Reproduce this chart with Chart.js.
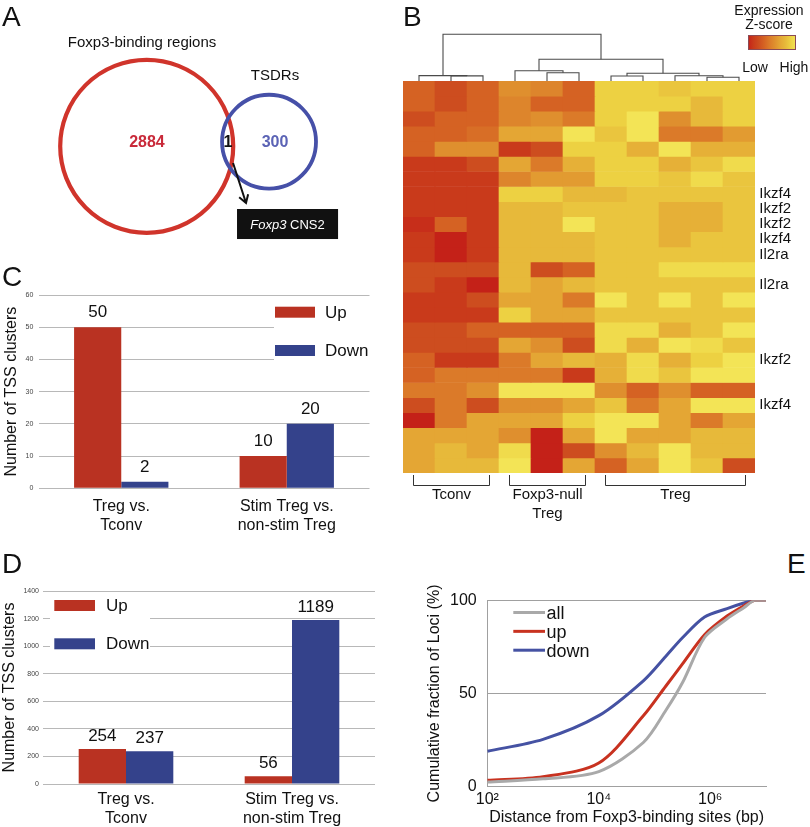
<!DOCTYPE html>
<html>
<head>
<meta charset="utf-8">
<script src="https://cdn.jsdelivr.net/npm/chart.js@4.4.1/dist/chart.umd.min.js"></script>
<style>
  body { margin: 0; background: #fff; }
  #page { position: relative; width: 810px; height: 827px; overflow: hidden; font-family: "Liberation Sans", Arial, Helvetica, sans-serif; }
  canvas { position: absolute; }
  .panel { position: absolute; font-size: 28px; line-height: 28px; color: #111; }
</style>
</head>
<body>
<div id="page">
  <canvas id="venn" width="400" height="270" style="left:0;top:0"></canvas>
  <canvas id="heat" width="410" height="530" style="left:400px;top:0"></canvas>
  <canvas id="dendro" width="352" height="51" style="left:403px;top:30px"></canvas>
  <canvas id="chartC" width="400" height="260" style="left:0;top:282px"></canvas>
  <canvas id="chartD" width="400" height="247" style="left:0;top:580px"></canvas>
  <canvas id="chartE" width="400" height="247" style="left:410px;top:580px"></canvas>
  <div class="panel" style="left:2px;top:3px">A</div>
  <div class="panel" style="left:403px;top:3px">B</div>
  <div class="panel" style="left:2px;top:263px">C</div>
  <div class="panel" style="left:2px;top:550px">D</div>
  <div class="panel" style="left:787px;top:550px">E</div>
</div>
<script>
// ---- data ----
// A: overlap of Foxp3-binding regions and TSDRs
const vennNames = ['Foxp3-binding regions', 'TSDRs'];
const vennCounts = [2884, 300];
const vennShared = 1;

// B: heatmap (expression z-score, 0 = low ... 9 = high), rows top to bottom
const heatSamples = ['Tconv 1', 'Tconv 2', 'Tconv 3', 'Foxp3-null Treg 1', 'Foxp3-null Treg 2', 'Foxp3-null Treg 3',
  'Treg 1', 'Treg 2', 'Treg 3', 'Treg 4', 'Treg 5'];
const heatGroups = ['Tconv', 'Foxp3-null\nTreg', 'Treg'];
const heatGroupFirst = [0, 3, 6];
const heatGroupLast = [2, 5, 10];
const heatRowLabels = ['', '', '', '', '', '', '', 'Ikzf4', 'Ikzf2', 'Ikzf2', 'Ikzf4', 'Il2ra', '', 'Il2ra',
  '', '', '', '', 'Ikzf2', '', '', 'Ikzf4', '', '', '', ''];
const heatRows = [
  [3, 2, 3, 5, 4.5, 3, 8, 8, 7.5, 8, 8],
  [3, 2, 3, 4.5, 3, 3, 8, 8, 8, 7, 8],
  [2, 3, 3, 4.5, 5, 4, 8, 9, 5, 7, 8],
  [3, 3, 3.5, 6, 6, 9, 7.5, 9, 4, 4, 5.5],
  [3, 5, 5, 1, 2, 8, 8, 6.5, 9, 6.5, 6.5],
  [1, 1, 2, 6, 4, 6.5, 8, 8, 6.5, 7.5, 8.5],
  [1, 1, 1, 4.5, 5.5, 5.5, 8, 8, 7.5, 8.5, 7.5],
  [1, 1, 1, 8, 8, 7, 7, 7.5, 7.5, 7.5, 7.5],
  [1, 1, 1, 7, 7, 7.5, 7.5, 7.5, 6.5, 6.5, 7.5],
  [0.5, 3, 1, 7, 7, 9, 7.5, 7.5, 6.5, 6.5, 7.5],
  [1, 0, 1, 7, 7, 7, 7.5, 7.5, 6.5, 7.5, 7.5],
  [1, 0, 1, 7, 7, 7, 7.5, 7.5, 7.5, 7.5, 7.5],
  [2, 2, 2, 7, 2, 3, 7.5, 7.5, 8.5, 8.5, 8.5],
  [2, 1, 0, 7, 6, 7, 7.5, 7.5, 7.5, 7.5, 7.5],
  [1, 1, 2, 6, 6, 4, 9, 7.5, 9, 7.5, 9],
  [1, 1, 1, 8, 6, 6, 7.5, 7.5, 7.5, 7.5, 7.5],
  [2, 2, 3, 3, 3, 3, 8.5, 8.5, 6.5, 7.5, 9],
  [2, 2, 2, 6, 5, 2, 8.5, 6.5, 9, 8.5, 7.5],
  [3, 1, 1, 4, 6, 7, 6.5, 8.5, 6.5, 8, 9],
  [3, 4, 4, 4, 4, 1, 6.5, 8.5, 7.5, 9, 9],
  [4, 4, 5, 9, 9, 9, 5, 3, 5, 3, 3],
  [2, 4, 2, 5, 5, 6, 7.5, 4, 6, 9, 9],
  [0, 4, 6, 6, 6, 8, 9, 9, 6, 4, 6],
  [6, 6, 6, 5, 0, 6, 9, 6, 6, 7, 7],
  [6, 7, 6, 8.5, 0, 2, 5, 7, 9, 7, 7],
  [6, 7, 7, 9, 0, 6, 3, 6, 9, 7.5, 2]
];
// column clustering: [cluster a, cluster b, merge height]; new clusters numbered from 11
const dendroMerges = [[1, 2, 1.1], [0, 11, 1.15], [4, 5, 1.78], [3, 13, 2.21], [6, 7, 1.07], [9, 10, 0.79],
  [8, 16, 1.13], [15, 17, 1.65], [14, 18, 4.65], [12, 19, 10]];

// C, D: numbers of TSS clusters
const barGroups = [['Treg vs.', 'Tconv'], ['Stim Treg vs.', 'non-stim Treg']];
const barSeries = ['Up', 'Down'];
const tssUpC = [50, 10];
const tssDownC = [2, 20];
const tssUpD = [254, 56];
const tssDownD = [237, 1189];

// E: cumulative fraction of loci vs distance
const distBp = [1e2, 1e3, 1e4, 6.3e4, 1.6e5, 3.2e5, 7.9e5, 2e6, 4e6, 6.3e6, 1e7];
const cumAll = [2.5, 4.2, 8.1, 23.7, 41, 56, 80, 90, 96, 100, 100];
const cumUp = [3.4, 5.4, 12.7, 38, 54, 66, 81.5, 91.5, 97, 100, 100];
const cumDown = [19, 25.4, 38.1, 56.8, 70, 80, 91, 95.5, 98.5, 100, 100];
const distTicks = [1e2, 1e4, 1e6];
const distTickLabels = ['10²', '10⁴', '10⁶'];

// ---- styles ----
const FONT = '"Liberation Sans", Arial, Helvetica, sans-serif';
Chart.defaults.font.family = FONT;
Chart.defaults.color = '#111';
Chart.defaults.animation = false;
Chart.defaults.responsive = false;
Chart.defaults.events = [];
Chart.defaults.plugins.legend.display = false;
Chart.defaults.plugins.tooltip.enabled = false;

const RED = '#b93222', BLUE = '#34428b';
const heatPalette = [[196, 33, 24], [201, 58, 27], [205, 77, 31], [213, 98, 35], [219, 122, 41],
  [223, 143, 46], [228, 166, 52], [231, 185, 58], [237, 209, 66], [243, 228, 86]];

function heatColor(v) {
  const i = Math.min(8, Math.floor(v)), f = v - i;
  const a = heatPalette[i], b = heatPalette[i + 1];
  const c = a.map((ch, k) => Math.round(ch + (b[k] - ch) * f));
  return `rgb(${c[0]},${c[1]},${c[2]})`;
}

// ---- A: venn ----
// circle centres and radii in units of the big circle's radius
const vennCx = [0, 1.414], vennCy = [0, 0.053], vennR = [1, 0.543];
const vennText = {
  id: 'vennText',
  afterDatasetsDraw(chart) {
    const {ctx} = chart;
    const xs = chart.scales.x, ys = chart.scales.y;
    const P = (x, y) => [xs.getPixelForValue(x), ys.getPixelForValue(y)];
    ctx.save();
    ctx.textAlign = 'center';
    ctx.textBaseline = 'middle';
    ctx.font = '15px ' + FONT;
    ctx.fillStyle = '#111';
    ctx.fillText(vennNames[0], ...P(-0.054, 1.194));
    ctx.fillText(vennNames[1], ...P(1.483, 0.813));
    ctx.font = 'bold 16px ' + FONT;
    ctx.fillStyle = '#c92a3a';
    ctx.fillText(vennCounts[0], ...P(0.003, 0.038));
    ctx.fillStyle = '#5b63b5';
    ctx.fillText(vennCounts[1], ...P(1.483, 0.038));
    ctx.fillStyle = '#111';
    ctx.fillText(vennShared, ...P(0.94, 0.038));

    // arrow to the box
    const [ax, ay] = P(0.998, -0.193), [bx, by] = P(1.148, -0.656);
    const ang = Math.atan2(by - ay, bx - ax);
    ctx.strokeStyle = '#111';
    ctx.lineWidth = 2;
    ctx.beginPath();
    ctx.moveTo(ax, ay); ctx.lineTo(bx, by);
    ctx.moveTo(bx - 9 * Math.cos(ang - 0.55), by - 9 * Math.sin(ang - 0.55));
    ctx.lineTo(bx, by);
    ctx.lineTo(bx - 9 * Math.cos(ang + 0.55), by - 9 * Math.sin(ang + 0.55));
    ctx.stroke();

    const [x0, y0] = P(1.044, -0.725), [x1, y1] = P(2.212, -1.072);
    ctx.fillStyle = '#111';
    ctx.fillRect(x0, y0, x1 - x0, y1 - y0);
    ctx.fillStyle = '#fff';
    ctx.textAlign = 'left';
    ctx.font = 'italic 13px ' + FONT;
    const w1 = ctx.measureText('Foxp3').width;
    ctx.font = '13px ' + FONT;
    const w2 = ctx.measureText(' CNS2').width;
    const sx = (x0 + x1) / 2 - (w1 + w2) / 2, cy = (y0 + y1) / 2 + 1;
    ctx.font = 'italic 13px ' + FONT;
    ctx.fillText('Foxp3', sx, cy);
    ctx.font = '13px ' + FONT;
    ctx.fillText(' CNS2', sx + w1, cy);
    ctx.restore();
  }
};

new Chart(document.getElementById('venn'), {
  type: 'scatter',
  data: {
    datasets: [{
      data: vennCx.map((x, i) => ({x, y: vennCy[i]})),
      pointRadius: c => {
        const s = c.chart.scales.x;
        return s.getPixelForValue(vennR[c.dataIndex]) - s.getPixelForValue(0);
      },
      pointBackgroundColor: 'rgba(0,0,0,0)',
      pointBorderColor: ['#d0342b', '#4650a8'],
      pointBorderWidth: [4.2, 3.8],
      clip: false
    }]
  },
  options: {
    layout: {padding: 0},
    scales: {
      x: {type: 'linear', min: -1.696, max: 2.928, display: false},
      y: {type: 'linear', min: -1.43, max: 1.691, display: false}
    }
  },
  plugins: [vennText]
});

// ---- B: heatmap ----
const heatDecor = {
  id: 'heatDecor',
  afterDraw(chart) {
    const {ctx, chartArea: a} = chart;
    const xs = chart.scales.x;
    const half = (xs.getPixelForValue(1) - xs.getPixelForValue(0)) / 2;
    ctx.save();
    ctx.strokeStyle = '#333';
    ctx.lineWidth = 1;
    ctx.fillStyle = '#111';
    ctx.font = '15px ' + FONT;
    ctx.textAlign = 'center';
    ctx.textBaseline = 'middle';
    heatGroups.forEach((g, i) => {
      const x0 = Math.round(xs.getPixelForValue(heatGroupFirst[i]) - half * 0.4) + 0.5;
      const x1 = Math.round(xs.getPixelForValue(heatGroupLast[i]) + half * 0.4) + 0.5;
      const yb = Math.round(a.bottom + 12) + 0.5;
      ctx.beginPath();
      ctx.moveTo(x0, a.bottom + 2); ctx.lineTo(x0, yb); ctx.lineTo(x1, yb); ctx.lineTo(x1, a.bottom + 2);
      ctx.stroke();
      g.split('\n').forEach((line, k) => ctx.fillText(line, (x0 + x1) / 2, yb + 9.5 + k * 19));
    });

    // colour key
    const bx = 348, by = 35, bw = 48, bh = 15;
    const grad = ctx.createLinearGradient(bx, 0, bx + bw, 0);
    heatPalette.forEach((c, i) => grad.addColorStop(i / 9, `rgb(${c[0]},${c[1]},${c[2]})`));
    ctx.fillStyle = grad;
    ctx.fillRect(bx, by, bw, bh);
    ctx.strokeStyle = '#8a4a55';
    ctx.strokeRect(bx + 0.5, by + 0.5, bw - 1, bh - 1);
    ctx.fillStyle = '#111';
    ctx.font = '14px ' + FONT;
    ctx.fillText('Expression', 369, 11);
    ctx.fillText('Z-score', 369, 25);
    ctx.fillText('Low', 355, 68);
    ctx.fillText('High', 394, 68);
    ctx.restore();
  }
};

new Chart(document.getElementById('heat'), {
  type: 'bar',
  data: {
    labels: heatSamples,
    datasets: heatRows.map((row, i) => ({
      label: heatRowLabels[i] || 'row ' + (i + 1),
      data: row.map(() => 1),
      backgroundColor: row.map(heatColor),
      borderWidth: 0,
      barPercentage: 1,
      categoryPercentage: 1
    }))
  },
  options: {
    layout: {padding: {left: 3, right: 0, top: 81, bottom: 57}},
    scales: {
      x: {stacked: true, display: false},
      y: {
        stacked: true, position: 'right', reverse: true, min: 0, max: heatRows.length,
        afterBuildTicks: s => {
          s.ticks = heatRowLabels.map((l, i) => ({value: i + 0.5})).filter((t, i) => heatRowLabels[i]);
        },
        ticks: {
          autoSkip: false, padding: 4.3, color: '#111', font: {size: 15},
          callback: v => heatRowLabels[Math.floor(v)]
        },
        grid: {display: false, drawTicks: false},
        border: {display: false},
        afterFit: s => { s.width = 55; }
      }
    }
  },
  plugins: [heatDecor]
});

// dendrogram over the heatmap columns
const nodeX = heatSamples.map((s, i) => i);
const nodeH = heatSamples.map(() => 0);
const dendroSegs = [];
dendroMerges.forEach(([p, q, h]) => {
  dendroSegs.push([{x: nodeX[p], y: nodeH[p]}, {x: nodeX[p], y: h}, {x: nodeX[q], y: h}, {x: nodeX[q], y: nodeH[q]}]);
  nodeX.push((nodeX[p] + nodeX[q]) / 2);
  nodeH.push(h);
});

new Chart(document.getElementById('dendro'), {
  type: 'scatter',
  data: {
    datasets: dendroSegs.map(seg => ({
      data: seg, showLine: true, borderColor: '#4a4a4a', borderWidth: 1.1,
      pointRadius: 0, tension: 0, clip: false
    }))
  },
  options: {
    layout: {padding: {top: 4.3, left: 0, right: 0, bottom: 0}},
    scales: {
      x: {type: 'linear', min: -0.5, max: heatSamples.length - 0.5, display: false},
      y: {type: 'linear', min: 0, max: 10, display: false}
    }
  }
});

// ---- C, D: bar charts ----
const barValues = {
  id: 'barValues',
  afterDatasetsDraw(chart, args, o) {
    const {ctx} = chart;
    ctx.save();
    ctx.font = '17px ' + FONT;
    ctx.fillStyle = '#111';
    ctx.textAlign = 'center';
    ctx.textBaseline = 'middle';
    chart.data.datasets.forEach((ds, i) => {
      chart.getDatasetMeta(i).data.forEach((bar, j) => ctx.fillText(ds.data[j], bar.x, bar.y - o.lift));
    });
    ctx.restore();
  }
};

const swatchLegend = {
  id: 'swatchLegend',
  afterDatasetsDraw(chart, args, o) {
    const {ctx, chartArea: a} = chart;
    ctx.save();
    ctx.fillStyle = '#fff';
    ctx.fillRect(a.left + o.bg[0], a.top + o.bg[1], o.bg[2], o.bg[3]);
    ctx.font = '17px ' + FONT;
    ctx.textBaseline = 'middle';
    chart.data.datasets.forEach((ds, i) => {
      const x = a.left + o.x, y = a.top + o.y + i * o.gap;
      ctx.fillStyle = ds.backgroundColor;
      ctx.fillRect(x, y, o.w, o.h);
      ctx.fillStyle = '#111';
      ctx.fillText(ds.label, x + o.textDx, y + o.h / 2 + 1);
    });
    ctx.restore();
  }
};

function tssChart(id, up, down, cfg) {
  return new Chart(document.getElementById(id), {
    type: 'bar',
    data: {
      labels: barGroups,
      datasets: [
        {label: barSeries[0], data: up, backgroundColor: RED},
        {label: barSeries[1], data: down, backgroundColor: BLUE}
      ]
    },
    options: {
      layout: {padding: cfg.pad},
      datasets: {bar: {categoryPercentage: 0.57, barPercentage: 1, borderWidth: 0}},
      plugins: {
        barValues: {lift: cfg.lift},
        swatchLegend: cfg.legend
      },
      scales: {
        x: {
          grid: {display: false, drawTicks: false}, border: {display: false},
          ticks: {font: {size: 16, lineHeight: 1.15}, color: '#111', padding: cfg.xPad, maxRotation: 0},
          afterFit: s => { s.height = cfg.xH; }
        },
        y: {
          min: 0, max: cfg.max,
          ticks: {stepSize: cfg.step, font: {size: 7}, color: '#444', padding: cfg.yPad, callback: v => String(v)},
          grid: {color: '#b8b8b8', drawTicks: false},
          border: {display: false},
          title: {display: true, text: 'Number of TSS clusters', font: {size: 16}, color: '#111',
            padding: {top: cfg.titlePad, bottom: 0}},
          afterFit: s => { s.width = cfg.yW; }
        }
      }
    },
    plugins: [barValues, swatchLegend]
  });
}

tssChart('chartC', tssUpC, tssDownC, {
  pad: {left: 0, right: 30.5, top: 13, bottom: 0},
  xH: 53.7, xPad: 9.2, yW: 38.5, yPad: 5.2, titlePad: 2.1, max: 60, step: 10, lift: 15,
  legend: {x: 236.5, y: 11.7, w: 40, h: 11, gap: 38.3, textDx: 50, bg: [235.5, 7, 96, 62]}
});

tssChart('chartD', tssUpD, tssDownD, {
  pad: {left: 0, right: 25, top: 11, bottom: 0},
  xH: 43, xPad: 6.8, yW: 43, yPad: 4, titlePad: 0, max: 1400, step: 200, lift: 13,
  legend: {x: 11.3, y: 9, w: 40.7, h: 11, gap: 38.3, textDx: 51.7, bg: [7, 4, 100, 55]}
});

// ---- E: cumulative distribution ----
const lineLegend = {
  id: 'lineLegend',
  afterDatasetsDraw(chart, args, o) {
    const {ctx, chartArea: a} = chart;
    ctx.save();
    ctx.font = '18px ' + FONT;
    ctx.textBaseline = 'middle';
    chart.data.datasets.forEach((ds, i) => {
      const y = a.top + o.y + i * o.gap;
      ctx.strokeStyle = ds.borderColor;
      ctx.lineWidth = 3;
      ctx.beginPath();
      ctx.moveTo(a.left + o.x, y);
      ctx.lineTo(a.left + o.x + o.len, y);
      ctx.stroke();
      ctx.fillStyle = '#111';
      ctx.fillText(ds.label, a.left + o.x + o.len + 1.5, y + 2);
    });
    ctx.restore();
  }
};

new Chart(document.getElementById('chartE'), {
  type: 'line',
  data: {
    datasets: [
      {label: 'all', data: distBp.map((x, i) => ({x, y: cumAll[i]})), borderColor: '#a9a9a9'},
      {label: 'up', data: distBp.map((x, i) => ({x, y: cumUp[i]})), borderColor: '#c83220'},
      {label: 'down', data: distBp.map((x, i) => ({x, y: cumDown[i]})), borderColor: '#4552a3'}
    ]
  },
  options: {
    layout: {padding: {left: 0, right: 44, top: 10, bottom: 0}},
    elements: {point: {radius: 0}, line: {borderWidth: 3, tension: 0.3}},
    plugins: {lineLegend: {x: 26, len: 31.7, y: 12.3, gap: 18.85}},
    scales: {
      x: {
        type: 'logarithmic', min: 1e2, max: 1e7,
        afterBuildTicks: s => { s.ticks = distTicks.map(v => ({value: v})); },
        ticks: {callback: v => distTickLabels[distTicks.indexOf(v)], font: {size: 16}, color: '#111',
          padding: 3, maxRotation: 0, autoSkip: false},
        grid: {display: false, drawTicks: false},
        border: {color: '#a0a0a0', width: 1},
        title: {display: true, text: 'Distance from Foxp3-binding sites (bp)', font: {size: 16}, color: '#111',
          padding: {top: 0, bottom: 0}},
        afterFit: s => { s.height = 40.3; }
      },
      y: {
        min: 0, max: 100,
        ticks: {stepSize: 50, font: {size: 16}, color: '#111', padding: 10.6},
        grid: {color: '#a0a0a0', drawTicks: false},
        border: {color: '#a0a0a0'},
        title: {display: true, text: 'Cumulative fraction of Loci (%)', font: {size: 16}, color: '#111',
          padding: {top: 15.4, bottom: 0}},
        afterFit: s => { s.width = 77.3; }
      }
    }
  },
  plugins: [lineLegend]
});
</script>
</body>
</html>
